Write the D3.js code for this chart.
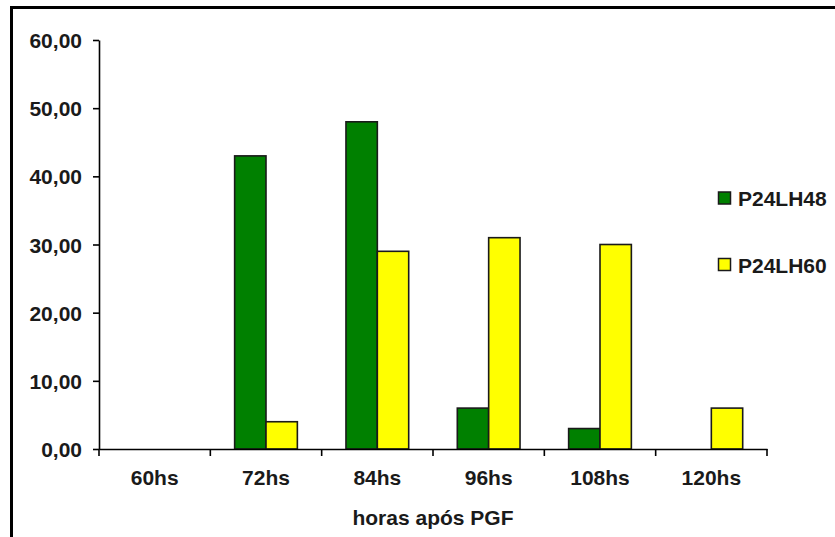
<!DOCTYPE html>
<html><head><meta charset="utf-8">
<script src="https://cdn.jsdelivr.net/npm/d3@7"></script>
<style>body{margin:0;background:#fff;}svg{display:block;font-family:"Liberation Sans",Arial,sans-serif;}</style>
</head><body><svg id="c" width="835" height="537"></svg>
<script>
const categories = ["60hs","72hs","84hs","96hs","108hs","120hs"];
const seriesNames = ["P24LH48","P24LH60"];
const p24lh48 = [0,43,48,6,3,0];
const p24lh60 = [0,4,29,31,30,6];
const yTicks = [0,10,20,30,40,50,60];
const xTitle = "horas após PGF";
const colors = ["#008000","#ffff00"];

const svg = d3.select("#c");
const W=835,H=537;
svg.append("rect").attr("x",11.5).attr("y",7.5).attr("width",W+20).attr("height",H+20)
  .attr("fill","#fff").attr("stroke","#000").attr("stroke-width",3);

const x0=99,x1=767,y0=449,y1=40;
const x = d3.scaleBand().domain(categories).range([x0,x1]).paddingInner(0).paddingOuter(0);
const y = d3.scaleLinear().domain([0,60]).range([y0,y1]);
const bw = x.bandwidth()/3.55;
const data = [p24lh48,p24lh60];
const fs = 21;

const g = svg.append("g");
data.forEach((vals,si)=>{
  g.selectAll(null).data(categories.map((c,i)=>({c,v:vals[i]})).filter(d=>d.v>0)).enter().append("rect")
    .attr("x",d=>x(d.c)+x.bandwidth()/2-bw+si*bw)
    .attr("y",d=>y(d.v)).attr("width",bw).attr("height",d=>y0-y(d.v))
    .attr("fill",colors[si]).attr("stroke","#1a1a1a").attr("stroke-width",1.6);
});

// y axis
const ya = svg.append("g").attr("transform",`translate(${x0},0)`)
  .call(d3.axisLeft(y).tickValues(yTicks).tickSize(6).tickSizeOuter(0).tickFormat(d=>d3.format(".2f")(d).replace(".",",")));
ya.select(".domain").attr("stroke","#000").attr("stroke-width",1.6);
ya.selectAll(".tick line").attr("stroke","#000").attr("stroke-width",1.6);
ya.selectAll(".tick text").attr("x",-17).attr("dy","0.36em").attr("font-size",fs).attr("font-weight","bold").attr("fill","#1a1a1a").attr("font-family","Liberation Sans, Arial, sans-serif");

// x axis
const xa = svg.append("g").attr("transform",`translate(0,${y0})`)
  .call(d3.axisBottom(x).tickSize(0).tickSizeOuter(0));
xa.select(".domain").attr("stroke","#000").attr("stroke-width",1.6);
xa.selectAll(".tick text").attr("y",28).attr("dy","0.36em").attr("font-size",fs).attr("font-weight","bold").attr("fill","#1a1a1a").attr("font-family","Liberation Sans, Arial, sans-serif");
const bounds = categories.map(c=>x(c)).concat([x1]);
svg.append("g").selectAll("line").data(bounds).enter().append("line")
  .attr("x1",d=>d).attr("x2",d=>d).attr("y1",y0).attr("y2",y0+7)
  .attr("stroke","#000").attr("stroke-width",1.6);

svg.append("text").attr("x",(x0+x1)/2).attr("y",525).attr("text-anchor","middle")
  .attr("font-size",fs).attr("font-weight","bold").attr("fill","#1a1a1a").text(xTitle);

// legend
const leg = svg.append("g");
const ly = [198.5,265];
seriesNames.forEach((n,i)=>{
  leg.append("rect").attr("x",718.5).attr("y",ly[i]-6.5).attr("width",12).attr("height",12)
    .attr("fill",colors[i]).attr("stroke","#1a1a1a").attr("stroke-width",1.5);
  leg.append("text").attr("x",738).attr("y",ly[i]).attr("dy","0.36em")
    .attr("font-size",fs).attr("font-weight","bold").attr("fill","#1a1a1a").text(n);
});
</script></body></html>
